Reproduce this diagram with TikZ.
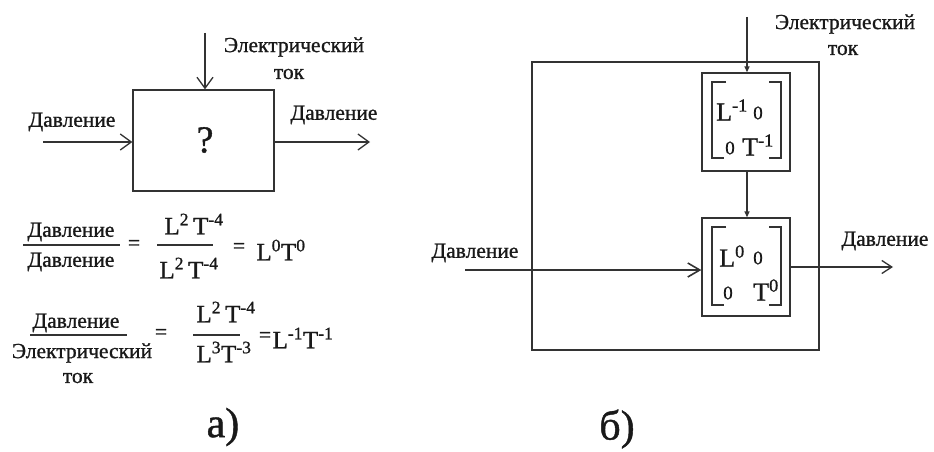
\documentclass[tikz,border=0pt]{standalone}
\usepackage{fontspec}
\setmainfont[FakeBold=1]{Liberation Serif}
\usetikzlibrary{arrows.meta}
\newcommand\sps[1]{\textsuperscript{#1}}
\begin{document}
\begin{tikzpicture}[x=1pt,y=-1pt,
  ln/.style={draw=black!80, line width=1.3pt},
  boxst/.style={ln, rectangle, inner sep=0pt},
  txt/.style={inner sep=0pt, font=\fontsize{21.5}{23}\selectfont, text=black!90},
  frm/.style={inner sep=0pt, font=\fontsize{25}{27}\selectfont, text=black!90},
  mtx/.style={inner sep=0pt, font=\fontsize{26}{28}\selectfont, text=black!90},
  zer/.style={inner sep=0pt, font=\fontsize{19}{20}\selectfont, text=black!90},
  captxt/.style={inner sep=0pt, font=\fontsize{42}{44}\selectfont, text=black!90},
  openarr/.style={-{Straight Barb[length=11pt,width=16pt,line width=1.3pt]}},
  smallarr/.style={-{Triangle[length=6pt,width=5pt]}}]
\useasboundingbox (0,0) rectangle (934,452);
\fill[white] (0,0) rectangle (934,452);

% ---------- a) ----------
\node[boxst, minimum width=141pt, minimum height=101pt] (qa) at (203.5,140.5) {};
\node[inner sep=0pt, font=\fontsize{38}{40}\selectfont, text=black!90] (qm) at (205,140) {?};
\coordinate (aTop) at (205,33);
\draw[ln,openarr] (aTop) -- (aTop |- qa.north);
\node[txt] (aEl) at (294,47) {Электрический};
\node[txt] (aTok) at (289,74) {ток};
\coordinate (aIn) at (43,142);
\draw[ln,openarr] (aIn) -- (aIn -| qa.west);
\node[txt] (aInL) at (72,122) {Давление};
\coordinate (aOut) at (370,142);
\draw[ln,openarr] (qa.east |- aOut) -- (aOut);
\node[txt] (aOutL) at (334,115) {Давление};

% formula 1
\node[txt] (f1n) at (71,232) {Давление};
\node[txt] (f1d) at (71,262) {Давление};
\draw[ln, line width=1.1pt] (23,245) -- (120,245);
\node[txt] (f1eq) at (134,245) {=};
\node[frm] (f2n) at (194,224) {L\sps{2}\,T\sps{-4}};
\node[frm] (f2d) at (189,268) {L\sps{2}\,T\sps{-4}};
\draw[ln, line width=1.1pt] (157,245) -- (213,245);
\node[txt] (f2eq) at (239,248) {=};
\node[frm] (f2r) at (281,250) {L\sps{0}T\sps{0}};

% formula 2
\node[txt] (g1n) at (76,323) {Давление};
\draw[ln, line width=1.1pt] (30,335) -- (127,335);
\node[txt] (g1d) at (82,353) {Электрический};
\node[txt] (g1t) at (78,378) {ток};
\node[txt] (g1eq) at (161,334) {=};
\node[frm] (g2n) at (226,312) {L\sps{2}\,T\sps{-4}};
\draw[ln, line width=1.1pt] (193,335) -- (240,335);
\node[frm] (g2d) at (224,352) {L\sps{3}T\sps{-3}};
\node[txt] (g2eq) at (265,337) {=};
\node[frm] (g2r) at (303,338) {L\sps{-1}T\sps{-1}};

\node[captxt] (la) at (223,427) {а)};

% ---------- б) ----------
\node[boxst, minimum width=287pt, minimum height=288pt] (outer) at (675.5,206) {};
\node[boxst, minimum width=88pt, minimum height=98pt] (b1) at (746,122) {};
\node[boxst, minimum width=88pt, minimum height=98pt] (b2) at (746,267) {};

% brackets box 1
\draw[ln, line width=1.1pt] (726,82) -- (712,82) -- (712,158) -- (724,158);
\draw[ln, line width=1.1pt] (769,82) -- (781,82) -- (781,158) -- (769,158);
\node[mtx] (m1a) at (732,110) {L\sps{-1}};
\node[zer] (m1b) at (758,113) {0};
\node[zer] (m1c) at (730,148) {0};
\node[mtx] (m1d) at (758,145) {T\sps{-1}};

% brackets box 2
\draw[ln, line width=1.1pt] (726,227) -- (712,227) -- (712,305) -- (724,305);
\draw[ln, line width=1.1pt] (769,227) -- (781,227) -- (781,305) -- (769,305);
\node[mtx] (m2a) at (732,256) {L\sps{0}};
\node[zer] (m2b) at (758,258) {0};
\node[zer] (m2c) at (728,293) {0};
\node[mtx] (m2d) at (766,290) {T\sps{0}};

\coordinate (bTop) at (747,17);
\draw[ln,smallarr] (bTop) -- (bTop |- b1.north);
\draw[ln,smallarr] (b1.south -| bTop) -- (b2.north -| bTop);
\node[txt] (bEl) at (845,24) {Электрический};
\node[txt] (bTok) at (843,50) {ток};

\coordinate (bIn) at (465,270);
\draw[ln, line width=2.4pt, -{Straight Barb[length=12pt,width=14pt,line width=1.6pt]}] (bIn) -- (bIn -| b2.west);
\node[txt] (bInL) at (475,253) {Давление};
\coordinate (bOut) at (893,267);
\draw[ln, -{Straight Barb[length=10pt,width=13pt,line width=1.3pt]}] (b2.east |- bOut) -- (bOut);
\node[txt] (bOutL) at (885,241) {Давление};

\node[captxt] (lb) at (617,429) {б)};
\end{tikzpicture}
\end{document}
